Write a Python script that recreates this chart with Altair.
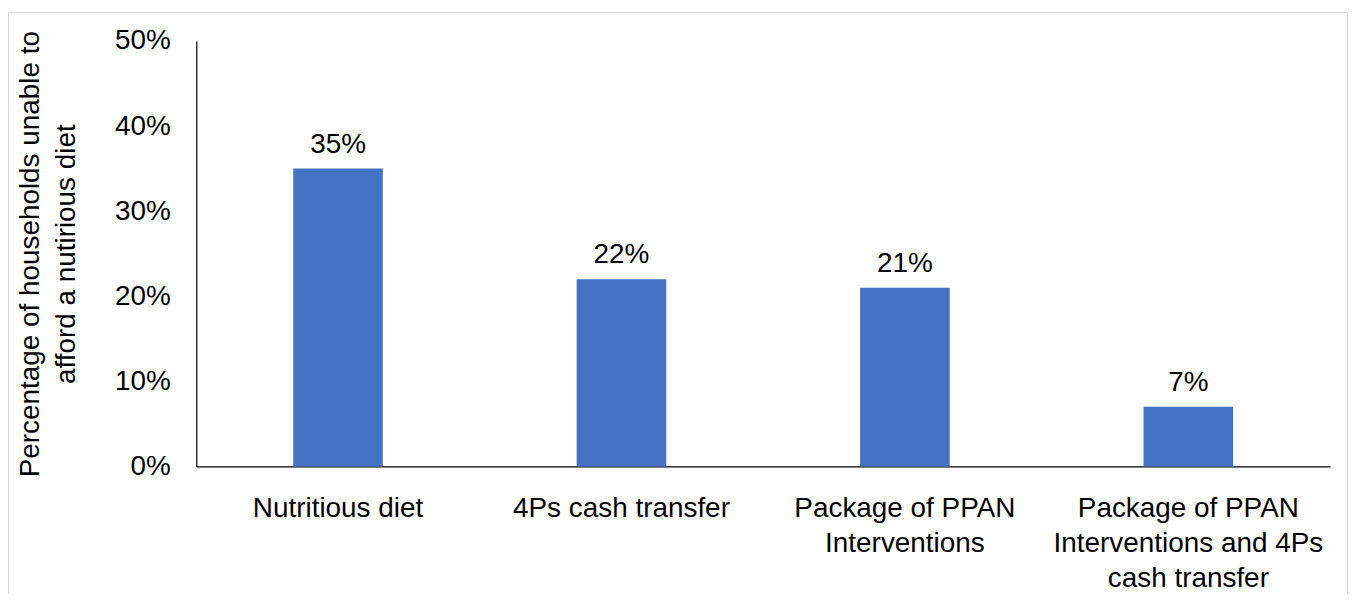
import json
import altair as alt
import pandas as pd

categories = [
    "Nutritious diet",
    "4Ps cash transfer",
    "Package of PPAN Interventions",
    "Package of PPAN Interventions and 4Ps cash transfer",
]
label_lines = [
    ["Nutritious diet"],
    ["4Ps cash transfer"],
    ["Package of PPAN", "Interventions"],
    ["Package of PPAN", "Interventions and 4Ps", "cash transfer"],
]
values = [0.35, 0.22, 0.21, 0.07]
value_labels = ["35%", "22%", "21%", "7%"]
y_ticks = [0, 0.1, 0.2, 0.3, 0.4, 0.5]
y_title = ["Percentage of households unable to", "afford a nutirious diet"]

FONT = "Liberation Sans"
FS = 28
BAR_COLOR = "#4472C4"

df = pd.DataFrame({"category": categories, "value": values, "label": value_labels})

# label expression for multi-line axis labels
expr = "datum.label"
for cat, lines in reversed(list(zip(categories, label_lines))):
    expr = f"datum.label == {json.dumps(cat)} ? {json.dumps(lines)} : ({expr})"

x_enc = alt.X(
    "category:N",
    sort=categories,
    scale=alt.Scale(paddingInner=0.684, paddingOuter=0.342),
    axis=alt.Axis(
        title=None,
        labelAngle=0,
        labelExpr=expr,
        labelFontSize=FS,
        labelColor="black",
        labelPadding=28,
        labelLineHeight=35.5,
        labelBaseline="top",
        ticks=False,
        domainColor="black",
        domainWidth=1.2,
        labelLimit=400,
    ),
)
y_enc = alt.Y(
    "value:Q",
    scale=alt.Scale(domain=[0, 0.5], nice=False),
    axis=alt.Axis(
        title=y_title,
        values=y_ticks,
        format=".0%",
        grid=False,
        ticks=False,
        labelFontSize=FS,
        labelColor="black",
        labelPadding=26,
        titleFontSize=FS,
        titleFontWeight="normal",
        titleColor="black",
        titleLineHeight=36,
        titlePadding=34,
        domainColor="black",
        domainWidth=1.2,
    ),
)

bars = alt.Chart(df).mark_bar(color=BAR_COLOR).encode(x=x_enc, y=y_enc)
texts = alt.Chart(df).mark_text(
    baseline="alphabetic", dy=-16, fontSize=FS, color="black"
).encode(x=alt.X("category:N", sort=categories), y="value:Q", text="label:N")

frame_df = pd.DataFrame({"k": [0]})
frame_color = "#d9d9d9"
frame_left = alt.Chart(frame_df).mark_rule(color=frame_color, strokeWidth=1).encode(
    x=alt.value(-188.5), y=alt.value(-28.5), y2=alt.value(570)
)
frame_top = alt.Chart(frame_df).mark_rule(color=frame_color, strokeWidth=1).encode(
    x=alt.value(-188.5), x2=alt.value(1155.5), y=alt.value(-28.5)
)
frame_right = alt.Chart(frame_df).mark_rule(color=frame_color, strokeWidth=1).encode(
    x=alt.value(1155.5), y=alt.value(-28.5), y2=alt.value(570)
)

chart = (
    alt.layer(frame_left, frame_top, frame_right, bars, texts)
    .properties(
        width=1138,
        height=427,
        autosize=alt.AutoSizeParams(type="none"),
        padding={"left": 189, "top": 32, "right": 18, "bottom": 127},
    )
    .configure(font=FONT)
    .configure_view(stroke=None)
)

chart.save("out.html", embed_options={"renderer": "svg", "actions": False})
